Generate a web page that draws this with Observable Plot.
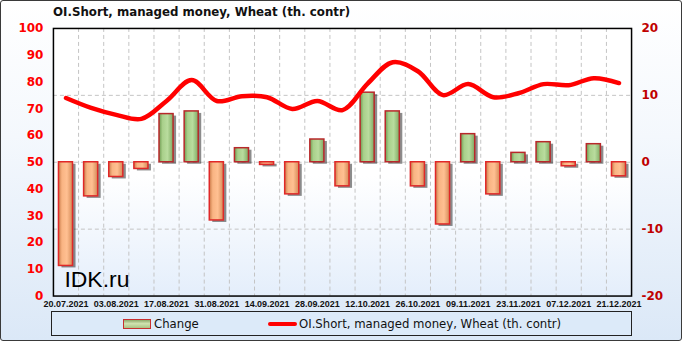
<!DOCTYPE html>
<html>
<head>
<meta charset="utf-8">
<script src="https://cdn.jsdelivr.net/npm/d3@7"></script>
<script src="https://cdn.jsdelivr.net/npm/@observablehq/plot@0.6"></script>
<style>
  html, body { margin: 0; padding: 0; }
  body { width: 682px; height: 341px; overflow: hidden; }
  #wrap {
    position: relative; width: 680px; height: 339px;
    border: 1px solid #3a3a3a; border-radius: 3px;
    background: linear-gradient(to bottom, #ffffff 0%, #f4f8fd 40%, #dbe8f7 100%);
    overflow: hidden;
  }
  #title {
    position: absolute; left: 52px; top: 4px;
    font: bold 11.8px "DejaVu Sans", Verdana, sans-serif; color: #111;
  }
  #chart { position: absolute; left: -1px; top: -1px; }
  #legend {
    position: absolute; left: 50px; top: 310px; width: 579px; height: 23px;
    border: 1px solid #222; background: #dceaf9;
    font: 13px "DejaVu Sans Condensed", "DejaVu Sans", sans-serif; color: #111;
  }
  .li { position: absolute; top: 4px; display: flex; align-items: center; height: 15px; }
</style>
</head>
<body>
<div id="wrap">
  <div id="chart"></div>
  <div id="title">OI.Short, managed money, Wheat (th. contr)</div>
  <div id="legend">
    <div class="li" style="left:71px">
      <span style="display:inline-block;width:26px;height:8px;border:1.5px solid #c83030;background:linear-gradient(to bottom,#8ea86a,#d0e3b0 45%,#a9c283);margin-right:3px"></span>Change
    </div>
    <div class="li" style="left:216px">
      <span style="display:inline-block;width:29px;height:4px;background:#ff0000;border-radius:2px;margin-right:2px"></span>OI.Short, managed money, Wheat (th. contr)
    </div>
  </div>
</div>
<script>
const dates = ["20.07.2021","27.07.2021","03.08.2021","10.08.2021","17.08.2021","24.08.2021",
  "31.08.2021","07.09.2021","14.09.2021","21.09.2021","28.09.2021","05.10.2021","12.10.2021",
  "19.10.2021","26.10.2021","02.11.2021","09.11.2021","16.11.2021","23.11.2021","30.11.2021",
  "07.12.2021","14.12.2021","21.12.2021"];
const change = [-15.5, -5.1, -2.2, -1.0, 7.2, 7.6, -8.7, 2.1, -0.4, -4.8, 3.4, -3.6, 10.4,
  7.6, -3.6, -9.3, 4.2, -4.8, 1.4, 3.0, -0.6, 2.7, -2.1];
const oiShort = [74.0, 70.3, 67.7, 66.2, 72.9, 80.7, 72.9, 74.7, 74.3, 69.9, 72.9, 69.5, 79.4,
  87.4, 84.0, 75.1, 79.2, 74.3, 75.8, 79.2, 78.8, 81.4, 79.6];
const leftTicks = [0, 10, 20, 30, 40, 50, 60, 70, 80, 90, 100];
const rightTicks = [-20, -10, 0, 10, 20];
const xTickIdx = [0, 2, 4, 6, 8, 10, 12, 14, 16, 18, 20, 22];

// right axis (change) mapped onto left scale: 0 -> 50, ±20 -> 0/100
const toLeft = v => 50 + v * 2.5;
const rows = change.map((c, i) => ({i, c, v: oiShort[i]}));
const pos = rows.filter(d => d.c >= 0);
const neg = rows.filter(d => d.c < 0);
const half = 0.28;
const bounds = d3.range(dates.length - 1).map(i => i + 0.5);

const chart = Plot.plot({
  width: 682, height: 310,
  marginLeft: 53, marginRight: 50, marginTop: 28, marginBottom: 14,
  style: {background: "transparent", overflow: "visible"},
  x: {type: "linear", domain: [-0.5, dates.length - 0.5], axis: null},
  y: {domain: [0, 100], axis: null},
  marks: [
    Plot.frame({fill: "url(#plotbg)", stroke: null}),
    Plot.ruleX(bounds, {x: d => d, stroke: "#c4c4c4", strokeDasharray: "4,3", strokeWidth: 1}),
    Plot.ruleY(rightTicks.slice(1, -1), {y: d => toLeft(d), stroke: "#c4c4c4", strokeDasharray: "4,3", strokeWidth: 1}),
    // shadows
    Plot.rectY(rows, {x1: d => d.i - half, x2: d => d.i + half, y1: 50, y2: d => toLeft(d.c),
      fill: "#000", fillOpacity: 0.45, dx: 3, dy: 2, ariaLabel: "barshadow"}),
    Plot.line(rows, {x: "i", y: "v", curve: "catmull-rom", stroke: "#000", strokeOpacity: 0.3,
      strokeWidth: 4, dx: 2, dy: 3, ariaLabel: "lineshadow"}),
    // bars
    Plot.rectY(pos, {x1: d => d.i - half, x2: d => d.i + half, y1: 50, y2: d => toLeft(d.c),
      fill: "url(#gpos)", stroke: "#b8282a", strokeWidth: 1.5}),
    Plot.rectY(neg, {x1: d => d.i - half, x2: d => d.i + half, y1: 50, y2: d => toLeft(d.c),
      fill: "url(#gneg)", stroke: "#e02828", strokeWidth: 1.5}),
    Plot.line(rows, {x: "i", y: "v", curve: "catmull-rom", stroke: "#ff0000", strokeWidth: 4.5,
      strokeLinecap: "round"}),
    Plot.frame({stroke: "#000", strokeWidth: 1.5}),
    // watermark
    Plot.text(["IDK.ru"], {frameAnchor: "bottom-left", dx: 11, dy: -9, text: d => d,
      textAnchor: "start", lineAnchor: "bottom", fontSize: 23, fill: "#000",
      fontFamily: "Liberation Sans, Arial, sans-serif"}),
    // left axis
    Plot.text(leftTicks, {y: d => d, text: d => String(d), frameAnchor: "left", dx: -10,
      textAnchor: "end", fill: "#ff0000", fontWeight: "bold", fontSize: 12,
      fontFamily: "DejaVu Sans, Verdana, sans-serif"}),
    // right axis
    Plot.text(rightTicks, {y: d => toLeft(d), text: d => String(d), frameAnchor: "right", dx: 10,
      textAnchor: "start", fill: "#c00000", fontWeight: "bold", fontSize: 12,
      fontFamily: "DejaVu Sans, Verdana, sans-serif"}),
    // x axis labels
    Plot.text(xTickIdx, {x: d => d, text: d => dates[d], frameAnchor: "bottom", dy: 8,
      lineAnchor: "middle", fill: "#111", fontWeight: "bold", fontSize: 9,
      fontFamily: "Liberation Sans, Arial, sans-serif"})
  ]
});

const defs = document.createElementNS("http://www.w3.org/2000/svg", "defs");
defs.innerHTML = `
  <linearGradient id="plotbg" x1="0" y1="0" x2="0" y2="1">
    <stop offset="0" stop-color="#ffffff"/>
    <stop offset="0.55" stop-color="#ffffff"/>
    <stop offset="1" stop-color="#e4eefb"/>
  </linearGradient>
  <linearGradient id="gpos" x1="0" y1="0" x2="1" y2="0">
    <stop offset="0" stop-color="#6f9a52"/>
    <stop offset="0.25" stop-color="#a9d08b"/>
    <stop offset="0.6" stop-color="#b9dc9e"/>
    <stop offset="1" stop-color="#7ea962"/>
  </linearGradient>
  <linearGradient id="gneg" x1="0" y1="0" x2="1" y2="0">
    <stop offset="0" stop-color="#c97c4a"/>
    <stop offset="0.25" stop-color="#f9b483"/>
    <stop offset="0.6" stop-color="#ffc092"/>
    <stop offset="1" stop-color="#d48a57"/>
  </linearGradient>
  <filter id="blur" x="-20%" y="-20%" width="140%" height="140%">
    <feGaussianBlur stdDeviation="1.6"/>
  </filter>`;
chart.insertBefore(defs, chart.firstChild);
chart.querySelectorAll('g[aria-label="barshadow"], g[aria-label="lineshadow"]').forEach(g => g.setAttribute("filter", "url(#blur)"));
document.getElementById("chart").appendChild(chart);
</script>
</body>
</html>
